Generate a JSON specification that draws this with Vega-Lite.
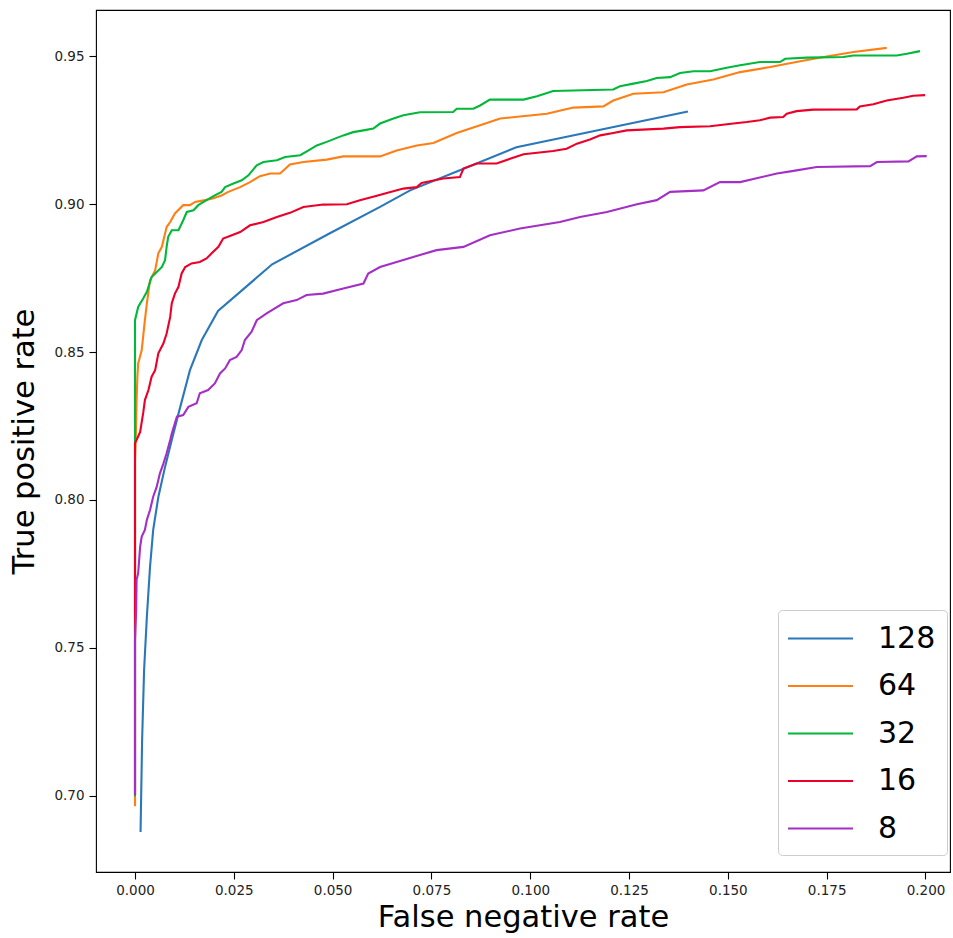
{
"$schema": "https://vega.github.io/schema/vega-lite/v6.json",
"width": 854, "height": 862,
"autosize": {"type": "none"},
"padding": {"left": 96, "top": 10, "right": 3, "bottom": 66},
"background": "white",
"config": {
  "font": "DejaVu Sans",
  "view": {"stroke": "#000", "strokeWidth": 1.1},
  "axis": {"grid": false, "domain": false, "tickColor": "#000", "tickSize": 7, "tickWidth": 1.1, "labelFont": "DejaVu Sans", "labelFontSize": 13.5, "labelColor": "#222", "labelOverlap": false, "labelFlush": false, "titleFont": "DejaVu Sans", "titleFontSize": 30.5, "titleFontWeight": "normal", "titleColor": "#000"}
},
"data": {"values": [
{"s":"128","x":0.0014,"y":0.6877},{"s":"128","x":0.0018,"y":0.7189},{"s":"128","x":0.0023,"y":0.7426},{"s":"128","x":0.0030,"y":0.7605},{"s":"128","x":0.0038,"y":0.7774},{"s":"128","x":0.0046,"y":0.7899},{"s":"128","x":0.0059,"y":0.8010},{"s":"128","x":0.0076,"y":0.8112},{"s":"128","x":0.0093,"y":0.8203},{"s":"128","x":0.0109,"y":0.8287},{"s":"128","x":0.0139,"y":0.8439},{"s":"128","x":0.0169,"y":0.8541},{"s":"128","x":0.0210,"y":0.8639},{"s":"128","x":0.0347,"y":0.8797},{"s":"128","x":0.0493,"y":0.8902},{"s":"128","x":0.0620,"y":0.8991},{"s":"128","x":0.0696,"y":0.9047},{"s":"128","x":0.0822,"y":0.9115},{"s":"128","x":0.0965,"y":0.9193},{"s":"128","x":0.1399,"y":0.9314},
{"s":"64","x":0,"y":0.6964},{"s":"64","x":0,"y":0.8135},{"s":"64","x":0.0002,"y":0.8213},{"s":"64","x":0.0004,"y":0.8338},{"s":"64","x":0.0006,"y":0.8416},{"s":"64","x":0.0008,"y":0.8462},{"s":"64","x":0.0017,"y":0.8507},{"s":"64","x":0.0025,"y":0.8608},{"s":"64","x":0.0030,"y":0.8665},{"s":"64","x":0.0038,"y":0.8743},{"s":"64","x":0.0051,"y":0.8777},{"s":"64","x":0.0059,"y":0.8834},{"s":"64","x":0.0068,"y":0.8856},{"s":"64","x":0.0080,"y":0.8923},{"s":"64","x":0.0089,"y":0.8940},{"s":"64","x":0.0101,"y":0.8969},{"s":"64","x":0.0122,"y":0.8997},{"s":"64","x":0.0139,"y":0.8997},{"s":"64","x":0.0152,"y":0.9008},{"s":"64","x":0.0177,"y":0.9014},{"s":"64","x":0.0194,"y":0.9019},{"s":"64","x":0.0219,"y":0.9030},{"s":"64","x":0.0236,"y":0.9042},{"s":"64","x":0.0266,"y":0.9058},{"s":"64","x":0.0291,"y":0.9075},{"s":"64","x":0.0316,"y":0.9095},{"s":"64","x":0.0342,"y":0.9104},{"s":"64","x":0.0367,"y":0.9104},{"s":"64","x":0.0392,"y":0.9135},{"s":"64","x":0.0426,"y":0.9143},{"s":"64","x":0.0485,"y":0.9151},{"s":"64","x":0.0527,"y":0.9162},{"s":"64","x":0.0620,"y":0.9162},{"s":"64","x":0.0662,"y":0.9182},{"s":"64","x":0.0713,"y":0.9199},{"s":"64","x":0.0755,"y":0.9207},{"s":"64","x":0.0814,"y":0.9241},{"s":"64","x":0.0873,"y":0.9267},{"s":"64","x":0.0924,"y":0.9290},{"s":"64","x":0.0974,"y":0.9297},{"s":"64","x":0.1042,"y":0.9306},{"s":"64","x":0.1109,"y":0.9327},{"s":"64","x":0.1185,"y":0.9331},{"s":"64","x":0.1210,"y":0.9351},{"s":"64","x":0.1261,"y":0.9374},{"s":"64","x":0.1337,"y":0.9379},{"s":"64","x":0.1396,"y":0.9405},{"s":"64","x":0.1463,"y":0.9422},{"s":"64","x":0.1531,"y":0.9447},{"s":"64","x":0.1607,"y":0.9464},{"s":"64","x":0.1683,"y":0.9484},{"s":"64","x":0.1750,"y":0.9500},{"s":"64","x":0.1818,"y":0.9515},{"s":"64","x":0.1902,"y":0.9529},
{"s":"32","x":0,"y":0.6997},{"s":"32","x":0,"y":0.8608},{"s":"32","x":0.0008,"y":0.8653},{"s":"32","x":0.0021,"y":0.8682},{"s":"32","x":0.0030,"y":0.8704},{"s":"32","x":0.0042,"y":0.8754},{"s":"32","x":0.0055,"y":0.8771},{"s":"32","x":0.0068,"y":0.8788},{"s":"32","x":0.0076,"y":0.8811},{"s":"32","x":0.0080,"y":0.8856},{"s":"32","x":0.0084,"y":0.8890},{"s":"32","x":0.0093,"y":0.8912},{"s":"32","x":0.0110,"y":0.8912},{"s":"32","x":0.0122,"y":0.8946},{"s":"32","x":0.0131,"y":0.8974},{"s":"32","x":0.0148,"y":0.8980},{"s":"32","x":0.0160,"y":0.8997},{"s":"32","x":0.0181,"y":0.9014},{"s":"32","x":0.0202,"y":0.9030},{"s":"32","x":0.0219,"y":0.9042},{"s":"32","x":0.0228,"y":0.9058},{"s":"32","x":0.0249,"y":0.9070},{"s":"32","x":0.0270,"y":0.9081},{"s":"32","x":0.0287,"y":0.9098},{"s":"32","x":0.0308,"y":0.9132},{"s":"32","x":0.0325,"y":0.9143},{"s":"32","x":0.0359,"y":0.9149},{"s":"32","x":0.0380,"y":0.9160},{"s":"32","x":0.0418,"y":0.9166},{"s":"32","x":0.0439,"y":0.9182},{"s":"32","x":0.0460,"y":0.9199},{"s":"32","x":0.0485,"y":0.9211},{"s":"32","x":0.0527,"y":0.9233},{"s":"32","x":0.0552,"y":0.9244},{"s":"32","x":0.0578,"y":0.9250},{"s":"32","x":0.0603,"y":0.9256},{"s":"32","x":0.0620,"y":0.9273},{"s":"32","x":0.0654,"y":0.9290},{"s":"32","x":0.0679,"y":0.9301},{"s":"32","x":0.0721,"y":0.9311},{"s":"32","x":0.0805,"y":0.9312},{"s":"32","x":0.0814,"y":0.9323},{"s":"32","x":0.0856,"y":0.9323},{"s":"32","x":0.0873,"y":0.9334},{"s":"32","x":0.0898,"y":0.9354},{"s":"32","x":0.0983,"y":0.9354},{"s":"32","x":0.1017,"y":0.9365},{"s":"32","x":0.1058,"y":0.9383},{"s":"32","x":0.1210,"y":0.9388},{"s":"32","x":0.1227,"y":0.9399},{"s":"32","x":0.1261,"y":0.9408},{"s":"32","x":0.1295,"y":0.9417},{"s":"32","x":0.1320,"y":0.9427},{"s":"32","x":0.1354,"y":0.9430},{"s":"32","x":0.1379,"y":0.9444},{"s":"32","x":0.1413,"y":0.9450},{"s":"32","x":0.1455,"y":0.9450},{"s":"32","x":0.1497,"y":0.9462},{"s":"32","x":0.1531,"y":0.9470},{"s":"32","x":0.1581,"y":0.9481},{"s":"32","x":0.1632,"y":0.9481},{"s":"32","x":0.1645,"y":0.9492},{"s":"32","x":0.1700,"y":0.9496},{"s":"32","x":0.1792,"y":0.9498},{"s":"32","x":0.1818,"y":0.9503},{"s":"32","x":0.1927,"y":0.9503},{"s":"32","x":0.1953,"y":0.9509},{"s":"32","x":0.1986,"y":0.9518},
{"s":"16","x":0,"y":0.7003},{"s":"16","x":0,"y":0.8193},{"s":"16","x":0.0004,"y":0.8203},{"s":"16","x":0.0013,"y":0.8230},{"s":"16","x":0.0021,"y":0.8297},{"s":"16","x":0.0025,"y":0.8338},{"s":"16","x":0.0034,"y":0.8372},{"s":"16","x":0.0042,"y":0.8417},{"s":"16","x":0.0051,"y":0.8439},{"s":"16","x":0.0059,"y":0.8496},{"s":"16","x":0.0072,"y":0.8530},{"s":"16","x":0.0080,"y":0.8563},{"s":"16","x":0.0089,"y":0.8619},{"s":"16","x":0.0093,"y":0.8665},{"s":"16","x":0.0101,"y":0.8698},{"s":"16","x":0.0110,"y":0.8721},{"s":"16","x":0.0118,"y":0.8766},{"s":"16","x":0.0127,"y":0.8788},{"s":"16","x":0.0143,"y":0.8800},{"s":"16","x":0.0164,"y":0.8805},{"s":"16","x":0.0181,"y":0.8817},{"s":"16","x":0.0194,"y":0.8834},{"s":"16","x":0.0211,"y":0.8856},{"s":"16","x":0.0223,"y":0.8884},{"s":"16","x":0.0245,"y":0.8895},{"s":"16","x":0.0266,"y":0.8906},{"s":"16","x":0.0291,"y":0.8929},{"s":"16","x":0.0325,"y":0.8940},{"s":"16","x":0.0359,"y":0.8957},{"s":"16","x":0.0392,"y":0.8971},{"s":"16","x":0.0426,"y":0.8991},{"s":"16","x":0.0476,"y":0.8999},{"s":"16","x":0.0536,"y":0.9000},{"s":"16","x":0.0569,"y":0.9014},{"s":"16","x":0.0612,"y":0.9029},{"s":"16","x":0.0637,"y":0.9038},{"s":"16","x":0.0679,"y":0.9053},{"s":"16","x":0.0713,"y":0.9058},{"s":"16","x":0.0725,"y":0.9072},{"s":"16","x":0.0780,"y":0.9087},{"s":"16","x":0.0822,"y":0.9092},{"s":"16","x":0.0831,"y":0.9121},{"s":"16","x":0.0865,"y":0.9138},{"s":"16","x":0.0915,"y":0.9138},{"s":"16","x":0.0949,"y":0.9154},{"s":"16","x":0.0983,"y":0.9169},{"s":"16","x":0.1058,"y":0.9180},{"s":"16","x":0.1092,"y":0.9188},{"s":"16","x":0.1118,"y":0.9205},{"s":"16","x":0.1151,"y":0.9219},{"s":"16","x":0.1177,"y":0.9233},{"s":"16","x":0.1210,"y":0.9241},{"s":"16","x":0.1244,"y":0.9250},{"s":"16","x":0.1337,"y":0.9256},{"s":"16","x":0.1379,"y":0.9261},{"s":"16","x":0.1455,"y":0.9264},{"s":"16","x":0.1514,"y":0.9273},{"s":"16","x":0.1548,"y":0.9278},{"s":"16","x":0.1581,"y":0.9284},{"s":"16","x":0.1607,"y":0.9293},{"s":"16","x":0.1640,"y":0.9295},{"s":"16","x":0.1649,"y":0.9306},{"s":"16","x":0.1674,"y":0.9315},{"s":"16","x":0.1716,"y":0.9320},{"s":"16","x":0.1826,"y":0.9321},{"s":"16","x":0.1834,"y":0.9331},{"s":"16","x":0.1868,"y":0.9338},{"s":"16","x":0.1902,"y":0.9351},{"s":"16","x":0.1944,"y":0.9360},{"s":"16","x":0.1969,"y":0.9367},{"s":"16","x":0.1999,"y":0.9369},
{"s":"8","x":0,"y":0.7003},{"s":"8","x":0,"y":0.7527},{"s":"8","x":0.0003,"y":0.7629},{"s":"8","x":0.0004,"y":0.7730},{"s":"8","x":0.0008,"y":0.7753},{"s":"8","x":0.0013,"y":0.7842},{"s":"8","x":0.0017,"y":0.7876},{"s":"8","x":0.0025,"y":0.7899},{"s":"8","x":0.0030,"y":0.7933},{"s":"8","x":0.0038,"y":0.7966},{"s":"8","x":0.0046,"y":0.8011},{"s":"8","x":0.0055,"y":0.8045},{"s":"8","x":0.0063,"y":0.8090},{"s":"8","x":0.0072,"y":0.8124},{"s":"8","x":0.0080,"y":0.8158},{"s":"8","x":0.0089,"y":0.8203},{"s":"8","x":0.0093,"y":0.8225},{"s":"8","x":0.0106,"y":0.8282},{"s":"8","x":0.0122,"y":0.8287},{"s":"8","x":0.0135,"y":0.8315},{"s":"8","x":0.0156,"y":0.8327},{"s":"8","x":0.0164,"y":0.8361},{"s":"8","x":0.0185,"y":0.8372},{"s":"8","x":0.0202,"y":0.8394},{"s":"8","x":0.0215,"y":0.8428},{"s":"8","x":0.0228,"y":0.8445},{"s":"8","x":0.0240,"y":0.8473},{"s":"8","x":0.0257,"y":0.8484},{"s":"8","x":0.0270,"y":0.8507},{"s":"8","x":0.0278,"y":0.8541},{"s":"8","x":0.0295,"y":0.8569},{"s":"8","x":0.0308,"y":0.8608},{"s":"8","x":0.0333,"y":0.8631},{"s":"8","x":0.0375,"y":0.8665},{"s":"8","x":0.0409,"y":0.8676},{"s":"8","x":0.0434,"y":0.8693},{"s":"8","x":0.0476,"y":0.8698},{"s":"8","x":0.0527,"y":0.8715},{"s":"8","x":0.0578,"y":0.8732},{"s":"8","x":0.0590,"y":0.8766},{"s":"8","x":0.0620,"y":0.8788},{"s":"8","x":0.0662,"y":0.8805},{"s":"8","x":0.0704,"y":0.8822},{"s":"8","x":0.0763,"y":0.8845},{"s":"8","x":0.0831,"y":0.8856},{"s":"8","x":0.0898,"y":0.8895},{"s":"8","x":0.0974,"y":0.8918},{"s":"8","x":0.1075,"y":0.8940},{"s":"8","x":0.1126,"y":0.8957},{"s":"8","x":0.1194,"y":0.8974},{"s":"8","x":0.1270,"y":0.9000},{"s":"8","x":0.1320,"y":0.9014},{"s":"8","x":0.1354,"y":0.9042},{"s":"8","x":0.1438,"y":0.9047},{"s":"8","x":0.1480,"y":0.9075},{"s":"8","x":0.1531,"y":0.9075},{"s":"8","x":0.1624,"y":0.9104},{"s":"8","x":0.1666,"y":0.9113},{"s":"8","x":0.1725,"y":0.9126},{"s":"8","x":0.1860,"y":0.9129},{"s":"8","x":0.1877,"y":0.9143},{"s":"8","x":0.1957,"y":0.9145},{"s":"8","x":0.1978,"y":0.9162},{"s":"8","x":0.2003,"y":0.9163}
]},
"mark": {"type": "line", "strokeWidth": 2.1},
"encoding": {
  "x": {"field": "x", "type": "quantitative",
        "scale": {"domain": [-0.00987, 0.2062], "nice": false, "zero": false},
        "axis": {"title": "False negative rate", "values": [0, 0.025, 0.05, 0.075, 0.1, 0.125, 0.15, 0.175, 0.2], "format": ".3f", "labelPadding": 4, "titlePadding": 6}},
  "y": {"field": "y", "type": "quantitative",
        "scale": {"domain": [0.6742, 0.9657], "nice": false, "zero": false},
        "axis": {"title": "True positive rate", "values": [0.7, 0.75, 0.8, 0.85, 0.9, 0.95], "format": ".2f", "labelPadding": 5, "titlePadding": 14}},
  "color": {"field": "s", "type": "nominal", "sort": ["128", "64", "32", "16", "8"],
        "scale": {"domain": ["128", "64", "32", "16", "8"], "range": ["#2a77b9", "#ff7f14", "#00b83a", "#eb0029", "#a42fc4"]},
        "legend": {"title": null, "orient": "none", "legendX": 682, "legendY": 600,
                   "symbolType": "M-2,0H2", "symbolSize": 1056, "symbolStrokeWidth": 2.2,
                   "symbolOffset": 14, "labelOffset": 40,
                   "labelFont": "DejaVu Sans", "labelFontSize": 30, "labelColor": "#000",
                   "padding": 11, "rowPadding": 14.5,
                   "strokeColor": "#cccccc", "fillColor": "white", "cornerRadius": 4}}
}
}
